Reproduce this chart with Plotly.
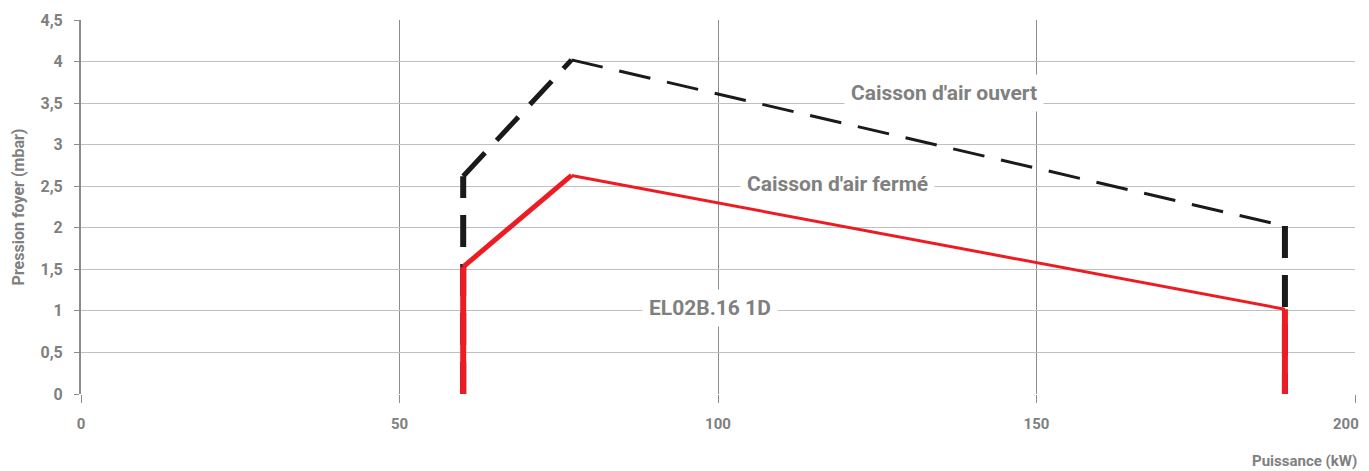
import plotly.graph_objects as go

# Data
puissance = [60, 60, 77, 189, 189]
ouvert = [0, 2.62, 4.02, 2.02, 0]     # Caisson d'air ouvert (dashed black)
ferme = [0, 1.53, 2.63, 1.02, 0]      # Caisson d'air fermé (red)
seg_widths = [6, 5, 3, 6]             # line width per segment

x_ticks = [0, 50, 100, 150, 200]
y_ticks = [0, 0.5, 1, 1.5, 2, 2.5, 3, 3.5, 4, 4.5]
y_labels = ["0", "0,5", "1", "1,5", "2", "2,5", "3", "3,5", "4", "4,5"]

GRAY = "#808080"
FONT = "Roboto, Arial, sans-serif"

fig = go.Figure()

for i, w in enumerate(seg_widths):
    fig.add_trace(go.Scatter(
        x=puissance[i:i + 2], y=ouvert[i:i + 2], mode="lines",
        line=dict(color="#1a1a1a", width=w, dash="32px,17px"),
        showlegend=False, hoverinfo="skip",
    ))
for i, w in enumerate(seg_widths):
    fig.add_trace(go.Scatter(
        x=puissance[i:i + 2], y=ferme[i:i + 2], mode="lines",
        line=dict(color="#ed1c24", width=w),
        showlegend=False, hoverinfo="skip",
    ))

labels = [
    ("Caisson d'air ouvert", 135.5, 3.62),
    ("Caisson d'air fermé", 118.8, 2.53),
    ("EL02B.16 1D", 98.7, 1.03),
]
for text, x, y in labels:
    fig.add_annotation(
        x=x, y=y, text=f"<b>{text}</b>", showarrow=False,
        bgcolor="white", borderpad=6,
        font=dict(family=FONT, size=21, color=GRAY),
    )

# last tick label would be clipped at the page edge: draw it as an annotation
x_ticktext = [f"<b>{t}</b>" for t in x_ticks[:-1]] + [""]

# the page body adds an 8px margin at top/left, so the figure is shrunk by 8px
fig.update_layout(
    width=1361, height=463,
    paper_bgcolor="white", plot_bgcolor="white",
    margin=dict(l=73, r=14, t=12, b=77),
    font=dict(family=FONT, color=GRAY),
    xaxis=dict(
        range=[0, 200], tickvals=x_ticks, ticktext=x_ticktext,
        tickfont=dict(size=15, color=GRAY),
        showgrid=True, gridcolor="#8c8c8c", gridwidth=1,
        zeroline=False, showline=False, automargin=False,
        ticks="outside", ticklen=8, tickcolor="#8c8c8c",
        ticklabelstandoff=8,
    ),
    yaxis=dict(
        range=[0, 4.5], tickvals=y_ticks,
        ticktext=[f"<b>{t}</b>" for t in y_labels],
        tickfont=dict(size=16, color=GRAY),
        showgrid=True, gridcolor="#c0c0c0", gridwidth=1,
        zeroline=False, showline=True, linecolor="#8c8c8c", linewidth=2,
        ticks="outside", ticklen=5, tickcolor="#8c8c8c",
        ticklabelstandoff=8, automargin=False,
        title=dict(text="<b>Pression foyer (mbar)</b>",
                   font=dict(size=16, color=GRAY), standoff=12),
    ),
)

fig.add_annotation(
    x=x_ticks[-1], y=0, xref="x", yref="paper", xanchor="right", yanchor="middle",
    yshift=-30, xshift=6, text=f"<b>{x_ticks[-1]}</b>", showarrow=False,
    font=dict(family=FONT, size=15, color=GRAY),
)
fig.add_annotation(
    x=1, y=0, xref="paper", yref="paper", xanchor="right", yanchor="middle",
    yshift=-67, xshift=4, text="<b>Puissance (kW)</b>", showarrow=False,
    font=dict(family=FONT, size=15, color=GRAY),
)

fig.write_html("out.html")
